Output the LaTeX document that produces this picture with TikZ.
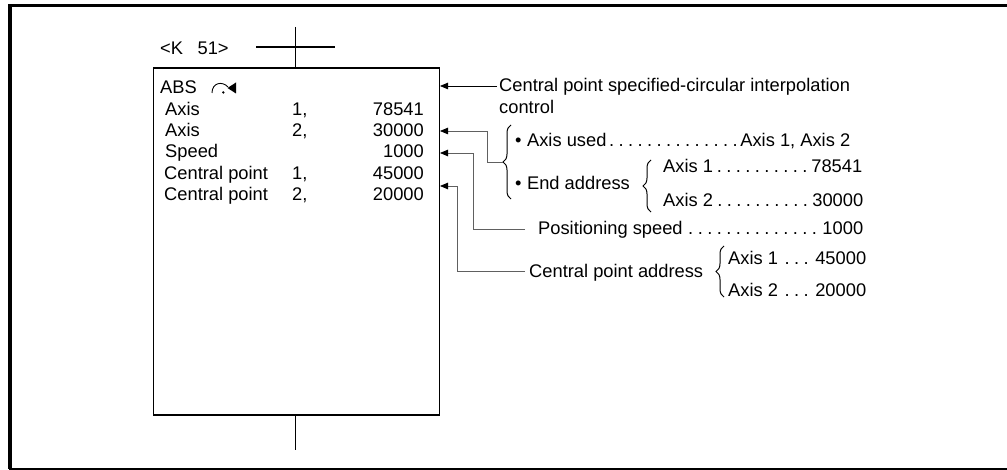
\documentclass[tikz,border=0pt]{standalone}
\usepackage{fontspec}
\setmainfont{Liberation Sans}
\usetikzlibrary{arrows.meta,decorations.pathreplacing}

% spaced dot leaders ". . . ."
\newcommand{\dotlead}{\cleaders\hbox to 9.5pt{\hss.\hss}\hfill}

\begin{document}
\begin{tikzpicture}[x=1pt, y=-1pt, line cap=butt,
    font=\fontsize{18.3}{21}\selectfont,
    lbl/.style={anchor=base west, inner sep=0pt},
    num/.style={anchor=base east, inner sep=0pt},
    lead/.style={gray!75!black, line width=0.8pt},
    tip/.style={-{Triangle[length=8pt,width=6.5pt,black]}},
    curly/.style={decorate, decoration={brace,amplitude=8pt}, line width=1pt}]
    \useasboundingbox (0,0) rectangle (1007,470);

    % ---- outer frame ----
    \draw[line width=3.3pt] (1012,5.7) -- (10,5.7) -- (10,469);
    \draw[line width=2pt] (9,469) -- (1012,469);

    % ---- ladder: contact, instruction box, rail ----
    \node[draw, line width=1.8pt, anchor=north west, inner sep=0pt,
          minimum width=286pt, minimum height=346.5pt] (box) at (152.5,67.5) {};
    \coordinate (railtop) at (295.5,27);
    \coordinate (railbot) at (295.5,450);
    \coordinate (cl) at (256,47);
    \coordinate (cr) at (335,47);
    \draw[line width=1.4pt] (railtop) -- (railtop |- box.north);
    \draw[line width=1.4pt] (cl) -- (cr);
    \draw[line width=1.4pt] (box.south -| railbot) -- (railbot);
    \node[lbl] (kno) at (160,55) {<K\hspace{14.5pt}51>};

    % ---- instruction inside the box ----
    \node[lbl] (abs) at (160,94) {ABS};
    \draw[line width=0.9pt] (212,93) .. controls (212,83) and (222,80.5) .. (228,87);
    \fill (227.5,88) -- (236,82.5) -- (236,93.5) -- cycle;
    \fill (223.3,92.5) circle (1.3pt);

    \node[lbl] (n1) at (165,116) {Axis};
    \node[lbl] (k1) at (292,116) {1,};
    \node[num] (v1) at (424,116) {78541};
    \node[lbl] (n2) at (165,137) {Axis};
    \node[lbl] (k2) at (292,137) {2,};
    \node[num] (v2) at (424,137) {30000};
    \node[lbl] (n3) at (165,158) {Speed};
    \node[num] (v3) at (424,158) {1000};
    \node[lbl] (n4) at (164,179.5) {Central point};
    \node[lbl] (k4) at (292,179.5) {1,};
    \node[num] (v4) at (424,179.5) {45000};
    \node[lbl] (n5) at (164,200.5) {Central point};
    \node[lbl] (k5) at (292,200.5) {2,};
    \node[num] (v5) at (424,200.5) {20000};

    % ---- explanations ----
    \node[lbl] (ctrl) at (499,92) {Central point specified-circular interpolation};
    \node[lbl] (ctrl2) at (499,113.5) {control};
    \node[lbl] (used) at (515,146.5)
        {\makebox[335pt][l]{\textbullet\hspace{5.5pt}Axis used\dotlead Axis 1, Axis 2}};
    \node[lbl] (endad) at (515,190) {\textbullet\hspace{5.5pt}End address};
    \node[lbl] (end1) at (663,173) {\makebox[199pt][l]{Axis 1\dotlead 78541}};
    \node[lbl] (end2) at (663,206.5) {\makebox[200pt][l]{Axis 2\dotlead 30000}};
    \node[lbl] (pos) at (538,235) {\makebox[325pt][l]{Positioning speed\dotlead 1000}};
    \node[lbl] (cpa) at (529,277.5) {Central point address};
    \node[lbl] (cp1) at (728,265) {\makebox[138pt][l]{Axis 1\dotlead 45000}};
    \node[lbl] (cp2) at (728,297) {\makebox[138pt][l]{Axis 2\dotlead 20000}};

    % ---- braces ----
    \draw[curly] (511,199) -- (511,125);
    \draw[curly] (651,212) -- (651,160);
    \draw[curly] (724,297) -- (724,246);

    % ---- arrows into the box ----
    \coordinate (tip1) at (440,86);
    \coordinate (tip2) at (440,131);
    \coordinate (tip3) at (440,153);
    \coordinate (tip4) at (440,186);
    \coordinate (e1) at (497,86);
    \coordinate (e2) at (503,162);
    \coordinate (e3) at (525,229);
    \coordinate (e4) at (525,271);
    \draw[line width=0.8pt, tip] (e1) -- (tip1);
    \draw[lead, tip] (e2) -- ++(-16,0) |- (tip2);
    \draw[lead, tip] (e3) -- ++(-52,0) |- (tip3);
    \draw[lead, tip] (e4) -- ++(-68,0) |- (tip4);
\end{tikzpicture}
\end{document}
